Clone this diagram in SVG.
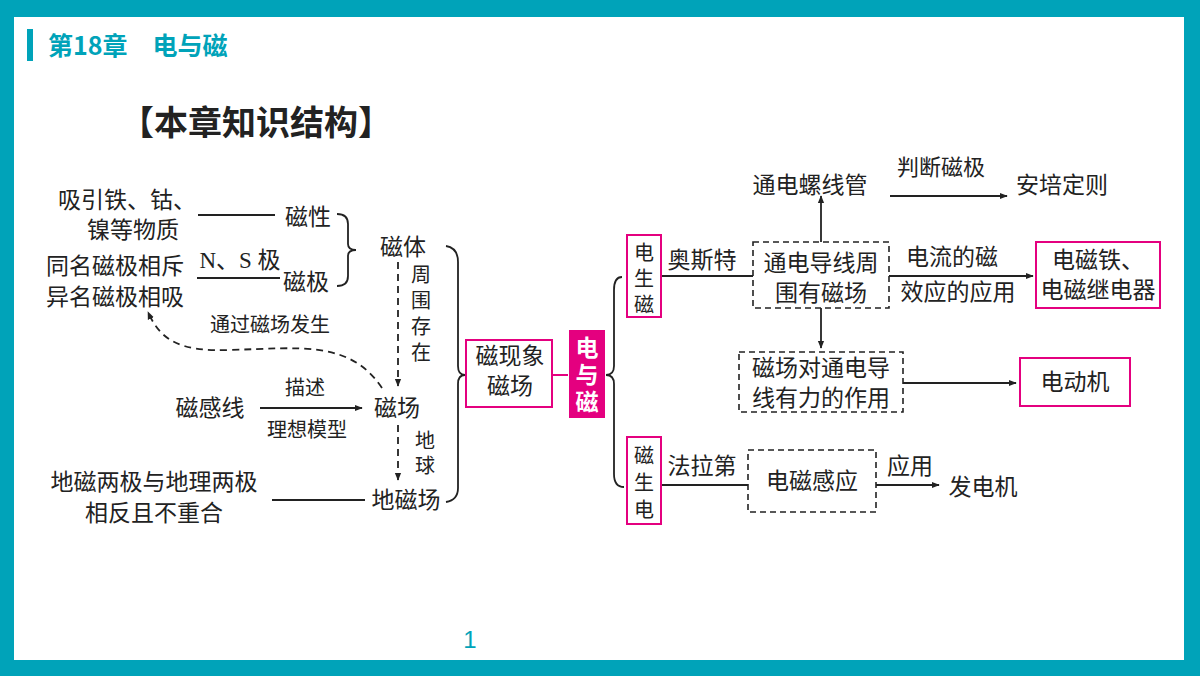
<svg xmlns="http://www.w3.org/2000/svg" width="1200" height="676" viewBox="0 0 1200 676">
<defs>
<style>
text{font-family:"Noto Sans CJK SC","Liberation Sans",sans-serif;font-size:23px;fill:#222;text-anchor:middle}
.s{font-family:"Liberation Serif","Noto Sans CJK SC",serif}
.v{font-size:20px}
.l{stroke:#222;stroke-width:1.8;fill:none}
.d{stroke:#222;stroke-width:1.8;fill:none;stroke-dasharray:7,5}
.pk{stroke:#E4007F;stroke-width:2;fill:#fff}
.db{stroke:#222;stroke-width:1.6;fill:#fff;stroke-dasharray:6,4}
</style>
<marker id="a" viewBox="0 0 10 10" refX="9" refY="5" markerWidth="8" markerHeight="8" markerUnits="userSpaceOnUse" orient="auto"><path d="M0,1 L10,5 L0,9 Z" fill="#222"/></marker>
</defs>
<rect width="1200" height="676" fill="#00A3B9"/>
<rect x="14" y="17" width="1170" height="643" fill="#fff"/>
<rect x="27" y="29" width="6" height="32" fill="#00A3B9"/>
<text x="48" y="55" style="text-anchor:start;fill:#00A3B9;font-weight:bold;font-size:25px">第18章　电与磁</text>
<text x="470" y="648" style="fill:#00A3B9;font-size:24px;font-family:'Liberation Sans',sans-serif">1</text>
<text x="256" y="135" style="font-weight:bold;font-size:34px">【本章知识结构】</text>

<g id="connectors">
<path class="l" d="M198,215 H275"/>
<path class="l" d="M197,278 H280"/>
<path class="l" d="M337,214 Q348,214 348,224 V244 Q348,250 356,250 Q348,250 348,256 V276 Q348,286 337,286"/>
<path class="d" d="M398,262 V386" marker-end="url(#a)"/>
<path class="l" d="M260,408 H362" marker-end="url(#a)"/>
<path class="d" d="M382,388 C350,340 300,348 230,350 C180,352 160,340 148,312" marker-end="url(#a)"/>
<path class="d" d="M398,425 V480" marker-end="url(#a)"/>
<path class="l" d="M272,500 H365"/>
<path class="l" d="M446,246 Q458,248 458,262 V366 Q458,375 465,375 Q458,375 458,384 V488 Q458,500 446,502"/>
<path d="M552,375 H568" stroke="#E4007F" stroke-width="2"/>
<path class="l" d="M622,277 Q614,277 614,290 V366 Q614,375 606,375 Q614,375 614,384 V474 Q614,487 624,487"/>
<path class="l" d="M661,276 H753"/>
<path class="l" d="M821,242 V196" marker-end="url(#a)"/>
<path class="l" d="M890,196 H1007" marker-end="url(#a)"/>
<path class="l" d="M889,276 H1033" marker-end="url(#a)"/>
<path class="l" d="M821,308 V348" marker-end="url(#a)"/>
<path class="l" d="M903,383 H1016" marker-end="url(#a)"/>
<path class="l" d="M661,485 H748"/>
<path class="l" d="M876,485 H939" marker-end="url(#a)"/>
</g>

<g id="n1"><text x="127" y="208">吸引铁、钴、</text><text x="133" y="238">镍等物质</text></g>
<g id="n2"><text x="308" y="225">磁性</text></g>
<g id="n3"><text x="115" y="274">同名磁极相斥</text><text x="115" y="305">异名磁极相吸</text></g>
<g id="n4"><text x="240" y="268" class="s">N、S 极</text></g>
<g id="n5"><text x="306" y="290">磁极</text></g>
<g id="n6"><text x="403" y="255">磁体</text></g>
<g id="n7"><text x="421" y="282" class="v">周</text><text x="421" y="308" class="v">围</text><text x="421" y="334" class="v">存</text><text x="421" y="360" class="v">在</text></g>
<g id="n8"><text x="397" y="416">磁场</text></g>
<g id="n9"><text x="210" y="416">磁感线</text><text x="305" y="395" class="v">描述</text><text x="307" y="437" class="v">理想模型</text></g>
<g id="n10"><text x="270" y="332" class="v">通过磁场发生</text></g>
<g id="n11"><text x="425" y="448" class="v">地</text><text x="425" y="473" class="v">球</text></g>
<g id="n12"><text x="406" y="508">地磁场</text><text x="154" y="490">地磁两极与地理两极</text><text x="154" y="521">相反且不重合</text></g>
<g id="n13"><rect class="pk" x="466" y="340" width="86" height="67"/><text x="510" y="364">磁现象</text><text x="510" y="394">磁场</text></g>
<g id="n14"><rect x="569" y="330" width="36" height="88" fill="#E4007F"/><text x="587" y="356" style="fill:#fff;font-weight:bold">电</text><text x="587" y="383" style="fill:#fff;font-weight:bold">与</text><text x="587" y="410" style="fill:#fff;font-weight:bold">磁</text></g>
<g id="n15"><rect class="pk" x="627" y="235" width="34" height="82"/><text x="644" y="260" class="v">电</text><text x="644" y="286" class="v">生</text><text x="644" y="312" class="v">磁</text><text x="702" y="268">奥斯特</text></g>
<g id="n16"><rect class="db" x="753" y="242" width="136" height="66"/><text x="821" y="271">通电导线周</text><text x="821" y="301">围有磁场</text></g>
<g id="n17"><text x="810" y="193">通电螺线管</text><text x="941" y="175" style="font-size:22px">判断磁极</text><text x="1062" y="193">安培定则</text></g>
<g id="n18"><text x="952" y="265">电流的磁</text><text x="958" y="300">效应的应用</text></g>
<g id="n19"><rect class="pk" x="1036" y="242" width="124" height="66"/><text x="1098" y="268">电磁铁、</text><text x="1098" y="298">电磁继电器</text></g>
<g id="n20"><rect class="db" x="739" y="352" width="164" height="60"/><text x="821" y="376">磁场对通电导</text><text x="821" y="406">线有力的作用</text></g>
<g id="n21"><rect class="pk" x="1020" y="358" width="110" height="48"/><text x="1075" y="390">电动机</text></g>
<g id="n22"><rect class="pk" x="627" y="437" width="34" height="87"/><text x="644" y="463" class="v">磁</text><text x="644" y="490" class="v">生</text><text x="644" y="517" class="v">电</text><text x="702" y="474">法拉第</text></g>
<g id="n23"><rect class="db" x="748" y="450" width="128" height="62"/><text x="812" y="489">电磁感应</text><text x="910" y="474">应用</text><text x="983" y="495">发电机</text></g>
</svg>
